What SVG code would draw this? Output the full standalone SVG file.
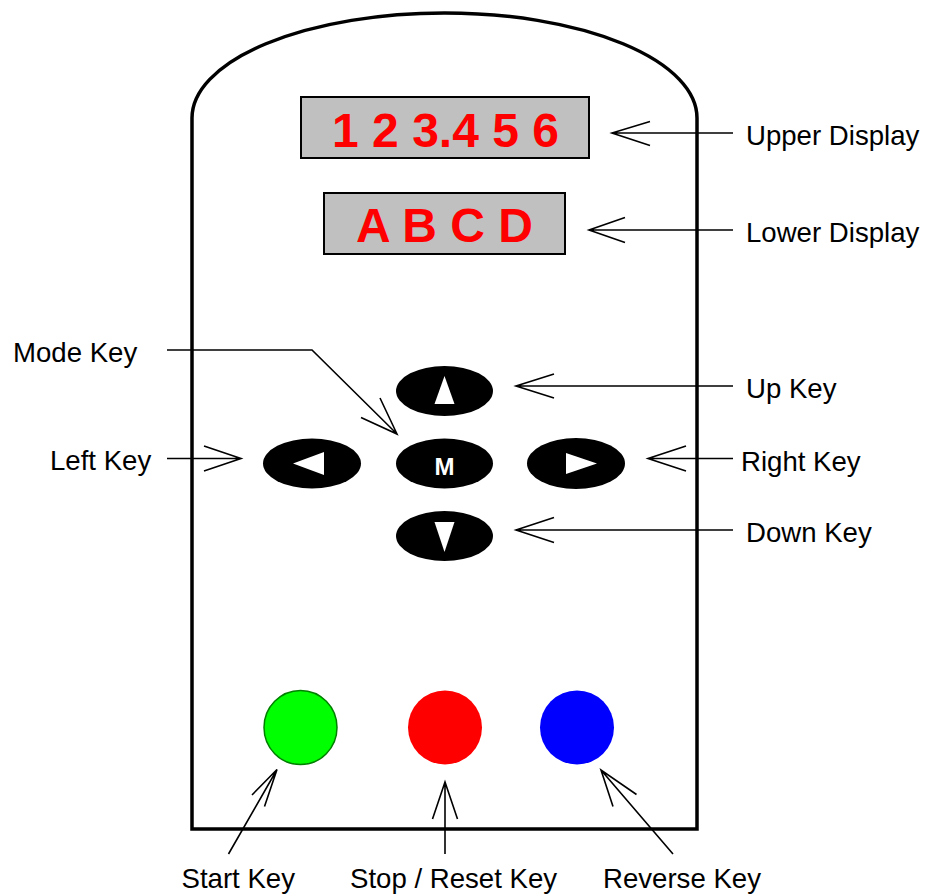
<svg xmlns="http://www.w3.org/2000/svg" width="927" height="896" viewBox="0 0 927 896">
<style>
.lbl{font-family:"Liberation Sans",Arial,sans-serif;font-size:27.6px;fill:#000}
.disp{font-family:"Liberation Sans",Arial,sans-serif;font-size:48px;font-weight:bold;fill:#FF0000}
.scr{fill:#C0C0C0;stroke:#000;stroke-width:2}
.key{fill:#000}
.tri{fill:#FFF}
.ln{fill:none;stroke:#000;stroke-width:1.6}
</style>
<rect width="927" height="896" fill="#FFF"/>
<g id="body">
<path d="M192,829 L192,118 A252.5,105 0 0 1 697,118 L697,829 Z" fill="none" stroke="#000" stroke-width="3.5"/>
</g>
<g id="upper-display">
<rect class="scr" x="301" y="97" width="288" height="61"/>
<text class="disp" x="445.5" y="147" text-anchor="middle">1 2 3.4 5 6</text>
</g>
<g id="lower-display">
<rect class="scr" x="324" y="193" width="241" height="61"/>
<text class="disp" x="444.5" y="242" text-anchor="middle">A B C D</text>
</g>
<g id="up-key">
<ellipse class="key" cx="444.5" cy="391" rx="48.5" ry="25"/>
<polygon class="tri" points="444.5,376 434.5,404 454.5,404"/>
</g>
<g id="mode-key">
<ellipse class="key" cx="444.5" cy="463.5" rx="48.5" ry="25"/>
<text x="444.5" y="475" text-anchor="middle" font-family="Liberation Sans, Arial, sans-serif" font-size="24" font-weight="bold" fill="#FFF">M</text>
</g>
<g id="left-key">
<ellipse class="key" cx="312" cy="463.5" rx="49" ry="25"/>
<polygon class="tri" points="293,463.5 324,452 324,475"/>
</g>
<g id="right-key">
<ellipse class="key" cx="576" cy="463.5" rx="49" ry="25.5"/>
<polygon class="tri" points="597,463.5 566,453 566,474"/>
</g>
<g id="down-key">
<ellipse class="key" cx="444.5" cy="536" rx="48.5" ry="25"/>
<polygon class="tri" points="444.5,552 434.5,522 454.5,522"/>
</g>
<g id="start-key">
<ellipse cx="300.5" cy="727.5" rx="36.5" ry="37" fill="#00FF00" stroke="#008000" stroke-width="1.5"/>
</g>
<g id="stop-key">
<ellipse cx="445" cy="727.5" rx="37" ry="37" fill="#FF0000"/>
</g>
<g id="reverse-key">
<ellipse cx="577" cy="727.5" rx="37" ry="37" fill="#0000FF"/>
</g>
<g id="connectors" class="ln">
<path class="ln" d="M733,133 L612,133 M650,121.5 L612,133 L650,145.5"/>
<path class="ln" d="M733,230 L589,230 M625,217.5 L589,230 L625,242.5"/>
<path class="ln" d="M167,350 L312,350 L397,434 M380,398 L397,434 L361,417.5"/>
<path class="ln" d="M167,458.5 L241,458.5 M204,446 L241,458.5 L204,471"/>
<path class="ln" d="M733,386 L516,386 M554,374 L516,386 L554,398"/>
<path class="ln" d="M733,458.5 L648,458.5 M686,446 L648,458.5 L686,471"/>
<path class="ln" d="M733,530 L516,530 M554,517.5 L516,530 L554,542.5"/>
<path class="ln" d="M228.5,854 L277,769.5 M252,795 L277,769.5 L264.5,806.5"/>
<path class="ln" d="M445,854 L445,782 M432.5,819 L445,782 L457.5,819"/>
<path class="ln" d="M673,854 L601,770 M613,806.5 L601,770 L636.5,794.5"/>
</g>
<g id="labels">
<text class="lbl" x="746" y="145">Upper Display</text>
<text class="lbl" x="746" y="242">Lower Display</text>
<text class="lbl" x="13" y="362">Mode Key</text>
<text class="lbl" x="50" y="470">Left Key</text>
<text class="lbl" x="746" y="398">Up Key</text>
<text class="lbl" x="741" y="471">Right Key</text>
<text class="lbl" x="746" y="542">Down Key</text>
<text class="lbl" x="181.5" y="888">Start Key</text>
<text class="lbl" x="350" y="888">Stop / Reset Key</text>
<text class="lbl" x="603" y="888">Reverse Key</text>
</g>
</svg>
